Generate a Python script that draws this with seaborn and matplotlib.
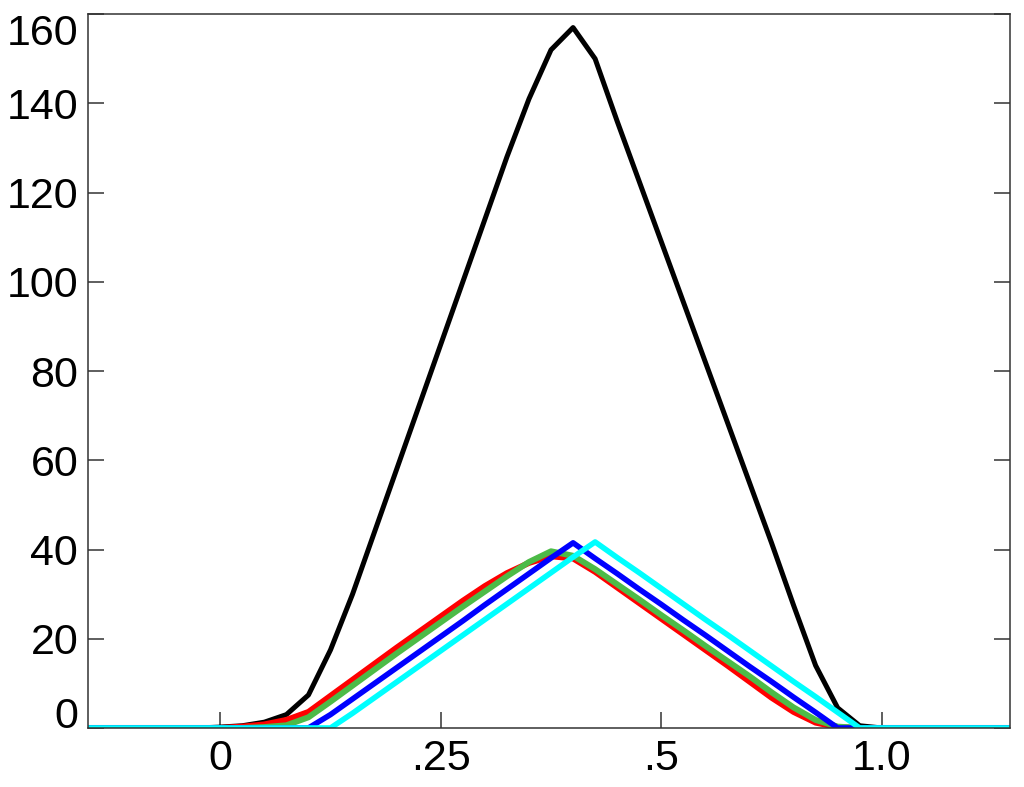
import numpy as np
import pandas as pd
import seaborn as sns
import matplotlib.pyplot as plt

sns.set_style('white')
plt.rcParams['font.family'] = ['Liberation Sans', 'DejaVu Sans']

# sample grid (x in data units), step .025
x = [-0.15, -0.125, -0.1, -0.075, -0.05, -0.025,
     0.0, 0.025, 0.05, 0.075, 0.1, 0.125, 0.15, 0.175, 0.2, 0.225,
     0.25, 0.275, 0.3, 0.325, 0.35, 0.375, 0.4, 0.425, 0.45, 0.475,
     0.5, 0.525, 0.55, 0.575, 0.6, 0.625, 0.65, 0.675, 0.7, 0.725,
     0.75, 0.775, 0.8, 0.825, 0.85, 0.875, 0.9]

lead = [0, 0, 0, 0, 0, 0]

black = lead + [0.2, 0.5, 1.3, 3.0, 7.4, 17.5, 30, 44, 58, 72, 86, 100, 114, 128, 141,
                152, 157, 150, 136, 122.5, 109, 95.5, 82, 68.5, 55, 41.5, 27.5, 14, 4.5, 0.5,
                0, 0, 0, 0, 0, 0, 0]
red = lead + [0, 0.3, 0.8, 1.8, 3.6, 7.2, 10.8, 14.4, 18, 21.5, 25, 28.5, 31.8, 34.7, 37,
              38.5, 38, 35, 31.5, 28, 24.5, 21, 17.5, 14, 10.4, 6.8, 3.6, 1.2, 0.2, 0,
              0, 0, 0, 0, 0, 0, 0]
green = lead + [0, 0, 0.2, 0.6, 2.4, 5.9, 9.5, 13.1, 16.7, 20.2, 23.7, 27.2, 30.6, 34, 37.2,
                39.6, 38.6, 35.6, 32.2, 28.8, 25.3, 21.9, 18.4, 15, 11.6, 8.0, 4.6, 1.8, 0.3, 0,
                0, 0, 0, 0, 0, 0, 0]
blue = lead + [0, 0, 0, 0, 0, 3.0, 6.5, 10, 13.5, 17, 20.5, 24, 27.6, 31.1, 34.6,
               38.1, 41.5, 38, 34.6, 31.1, 27.7, 24.2, 20.8, 17.3, 13.8, 10.4, 6.9, 3.5, 0,
               0, 0, 0, 0, 0, 0, 0, 0]
cyan = lead + [0, 0, 0, 0, 0, 0, 3.3, 6.8, 10.3, 13.8, 17.3, 20.8, 24.3, 27.8, 31.3,
               34.8, 38.3, 41.7, 38.2, 34.8, 31.3, 27.8, 24.3, 20.9, 17.4, 13.9, 10.4, 7, 3.5, 0,
               0, 0, 0, 0, 0, 0, 0]

series = {'black': black, 'red': red, 'green': green, 'blue': blue, 'cyan': cyan}
colors = {'black': '#000000', 'red': '#ff0000', 'green': '#4cbb47',
          'blue': '#0000ff', 'cyan': '#00ffff'}
widths = {'black': 3.6, 'red': 4.3, 'green': 4.3, 'blue': 4.0, 'cyan': 4.0}

xticks = [0, 0.25, 0.5, 0.75]
xticklabels = ['0', '.25', '.5', '1.0']
yticks = [0, 20, 40, 60, 80, 100, 120, 140, 160]
yticklabels = ['0', '20', '40', '60', '80', '100', '120', '140', '160']

fig = plt.figure(figsize=(10.24, 7.87), dpi=100)
ax = fig.add_axes([0.0859, 0.075, 0.9001, 0.907])

for name, vals in series.items():
    df = pd.DataFrame({'x': x, 'y': vals})
    sns.lineplot(data=df, x='x', y='y', ax=ax, color=colors[name],
                 linewidth=widths[name], sort=False, legend=False)

ax.set_xlim(-0.15, 0.895)
ax.set_ylim(0, 160)
ax.set_xlabel('')
ax.set_ylabel('')

ax.set_xticks(xticks)
ax.set_xticklabels(xticklabels)
ax.set_yticks(yticks)
ax.set_yticklabels(yticklabels)

ax.tick_params(axis='both', direction='in', length=11.5, width=1.1,
               color='#333333', labelsize=31, labelcolor='black')
ax.tick_params(axis='y', right=True, left=True, pad=7)
ax.tick_params(axis='x', top=False, bottom=True, pad=8)

labs = ax.get_yticklabels()
labs[0].set_va('baseline')
labs[-1].set_va('top')

for s in ax.spines.values():
    s.set_visible(True)
    s.set_color('#333333')
    s.set_linewidth(1.1)

plt.savefig('out.png', dpi=100)
